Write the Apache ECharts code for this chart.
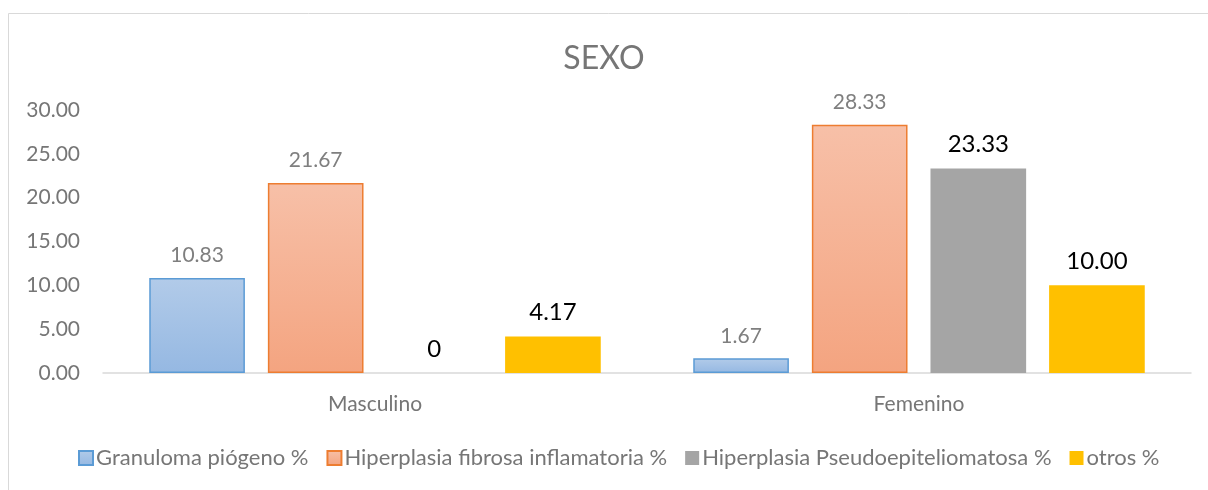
<!DOCTYPE html>
<html>
<head>
<meta charset="utf-8">
<script src="https://cdn.jsdelivr.net/npm/echarts@6/dist/echarts.min.js"></script>
<style>
  html, body { margin: 0; padding: 0; background: #fff; }
  #chart { width: 1208px; height: 490px; }
</style>
</head>
<body>
<div id="chart"></div>
<script>
var categories = ['Masculino', 'Femenino'];
var seriesNames = ['Granuloma piógeno %', 'Hiperplasia fibrosa inflamatoria %', 'Hiperplasia Pseudoepiteliomatosa %', 'otros %'];
var granuloma = [10.83, 1.67];
var hiperFibrosa = [21.67, 28.33];
var hiperPseudo = [0, 23.33];
var otros = [4.17, 10.00];
var yTicks = [0, 5, 10, 15, 20, 25, 30];

var font = 'Lato, "Noto Sans", sans-serif';
var myChart = echarts.init(document.getElementById('chart'));

function grad(top, bottom) {
    return new echarts.graphic.LinearGradient(0, 0, 0, 1, [
        { offset: 0, color: top },
        { offset: 1, color: bottom }
    ]);
}

var grayLabel = {
    show: true, position: 'top', distance: 12,
    color: '#7f7f7f', fontSize: 21, fontFamily: font,
    formatter: function (p) { return p.value.toFixed(2); }
};
var blackLabel = {
    show: true, position: 'top', distance: 12,
    color: '#000', fontSize: 24, fontFamily: font,
    formatter: function (p) { return p.value === 0 ? '0' : p.value.toFixed(2); }
};

option = {
    animation: false,
    backgroundColor: '#fff',
    title: {
        text: 'SEXO',
        left: 'center',
        top: 38,
        textStyle: { color: '#767676', fontSize: 32, fontWeight: 'normal', fontFamily: font }
    },
    graphic: [{
        type: 'rect',
        shape: { x: 8.5, y: 13.5, width: 1230, height: 500 },
        style: { fill: 'none', stroke: '#d9d9d9', lineWidth: 1 },
        silent: true
    }],
    legend: {
        top: 442,
        left: 73,
        itemWidth: 14,
        itemHeight: 14,
        itemGap: 18,
        icon: 'rect',
        textStyle: { color: '#767676', fontSize: 22, fontFamily: font, padding: [0, 0, 0, -2] },
        data: seriesNames
    },
    grid: { left: 103, right: 17, top: 110, bottom: 117 },
    xAxis: {
        type: 'category',
        data: categories,
        axisLine: { lineStyle: { color: '#d9d9d9', width: 1.5 } },
        axisTick: { show: false },
        axisLabel: { color: '#767676', fontSize: 21, fontFamily: font, margin: 21 }
    },
    yAxis: {
        type: 'value',
        min: yTicks[0],
        max: yTicks[yTicks.length - 1],
        interval: 5,
        splitLine: { show: false },
        axisLine: { show: false },
        axisTick: { show: false },
        axisLabel: {
            color: '#767676', fontSize: 21, fontFamily: font, margin: 23,
            formatter: function (v) { return v.toFixed(2); }
        }
    },
    series: [{
        name: seriesNames[0],
        type: 'bar',
        data: granuloma,
        barGap: '24%',
        barCategoryGap: '17%',
        itemStyle: { color: grad('#b2cbe9', '#95b8e2'), borderColor: '#5b9bd5', borderWidth: 1.5 },
        label: grayLabel
    }, {
        name: seriesNames[1],
        type: 'bar',
        data: hiperFibrosa,
        itemStyle: { color: grad('#f7c0a8', '#f4a480'), borderColor: '#ed7d31', borderWidth: 1.5 },
        label: grayLabel
    }, {
        name: seriesNames[2],
        type: 'bar',
        data: hiperPseudo,
        itemStyle: { color: '#a5a5a5' },
        label: blackLabel
    }, {
        name: seriesNames[3],
        type: 'bar',
        data: otros,
        itemStyle: { color: '#ffc000' },
        label: blackLabel
    }]
};

myChart.setOption(option);
</script>
</body>
</html>
